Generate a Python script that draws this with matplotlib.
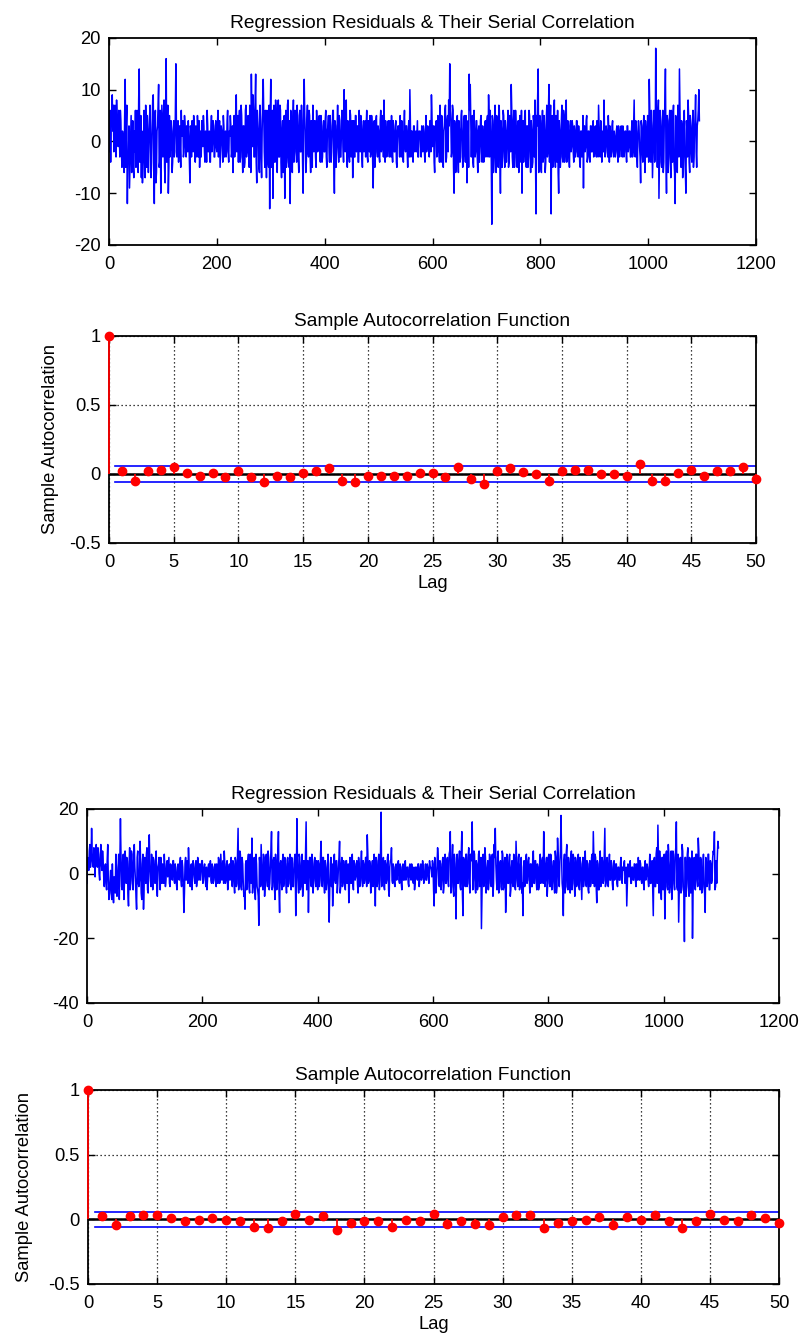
import matplotlib
matplotlib.use("Agg")
import matplotlib.pyplot as plt
import numpy as np

plt.rcParams["font.family"] = ["Liberation Sans", "DejaVu Sans"]
plt.rcParams["font.size"] = 13.2
plt.rcParams["axes.unicode_minus"] = False

# regression residuals, even observations (t = 0, 2, 4, ...)
resid_a_even = [
    -2, 6, 3, 9, 7, -1, 5, 8, 2, 6, -3, 4, -5, 1, -6, 12, 3, -12, -4, -9, 2, -6, 4, -7, -2,
    -5, 6, -6, 14, -3, -7, -8, 1, -4, 7, -5, 2, -2, 7, -7, 3, 9, -12, 6, -6, 3, 11, -4, -10, 7,
    -3, 8, -8, 16, 3, -10, 5, -1, 2, -4, 4, -2, 15, -3, 4, 1, -1, 6, 2, -3, 5, -1, 3, -2, 1,
    -8, 2, 4, -2, 3, -4, 1, 5, -3, -5, 2, 4, -1, 3, -4, 1, 6, -2, 2, -4, 5, 0, 3, -3, 4,
    -2, 6, 1, -5, 3, -1, 5, -3, 2, -2, 6, -4, 1, 3, -2, -6, 5, -1, 9, 2, -4, 6, -3, 5, -6,
    3, -4, 7, -2, 5, -5, 3, 13, -1, 6, -3, 13, -8, 4, -5, 7, -3, 2, 12, -2, 6, -7, 3, -5, -13,
    12, -2, -11, 7, -4, 5, -6, 8, -3, 6, -7, 4, -2, -11, 6, -3, 8, -5, -12, 4, -6, 8, -2, 5, -4,
    3, -6, 6, -2, 4, -10, 12, 2, -4, 7, -3, 5, -6, 2, 7, -2, 4, -5, 3, -1, 5, -4, 2, -3, 4,
    -2, 6, -5, 3, -1, 5, -4, 2, 6, -10, 3, -2, 7, -4, 4, -3, 6, -1, 10, -2, 8, -5, 3, -4, 5,
    -2, -7, 4, -3, 5, 1, -4, 6, -2, 3, -5, 4, 1, -3, 6, -4, 2, 5, -2, 3, -9, 4, -1, 5, -3,
    2, -4, 6, -1, 3, 8, -4, 2, -2, 4, -3, 1, 5, -4, 2, -2, 4, -5, 3, 0, 5, -3, 2, -4, 6,
    -2, 3, -5, 4, 10, -3, 2, -4, 3, 1, -2, 4, -3, 1, -1, 3, -2, 2, -4, 5, -1, 2, -3, 4, 9,
    -1, 3, -6, 2, -3, 5, -2, 7, -4, 4, -5, 3, 7, -3, 5, 8, 15, 4, -2, 6, -10, 3, -4, 5, -6,
    2, -3, 6, -5, 3, -2, 5, -8, 4, 13, 11, -3, 5, -5, 2, -2, 4, -6, 3, -1, 5, -4, 1, -3, 4,
    -2, 5, 9, -3, 2, -16, 4, -4, 7, -6, 3, -5, 6, -10, 2, -3, 5, -5, 2, -1, 6, -4, 3, 11, -3,
    4, -5, 6, -2, 3, -6, 5, -4, -10, 4, -2, 6, -5, 3, -3, 5, -6, 2, -4, 4, 8, -14, 3, 14, -5,
    4, -6, 6, -3, 2, -4, 7, -2, 11, 3, -14, 5, -4, 8, -5, 3, 6, -10, 2, -3, 7, -4, 5, -2, 8,
    -3, 2, -5, 4, -1, 3, -4, 2, -2, 4, -3, 1, -5, 2, -2, -9, 3, -1, 5, -3, 2, -4, 3, -2, 4,
    -1, 3, -3, 2, 7, -2, 4, -4, 2, 8, -3, 3, -1, 5, -4, 2, -2, 4, -3, 1, -2, 3, -4, 2, -1,
    3, -3, 1, -2, 2, -4, 3, -1, 2, -3, 4, -2, 8, -3, 2, -5, 4, -1, -8, 3, -4, 5, -6, 2, -3,
    4, 12, -3, 6, -7, 3, -4, 18, 2, 5, -11, 6, -4, 3, -6, 5, 14, -10, 4, -3, 6, -7, 2, 5, -4,
    -12, 3, -6, 5, 14, -2, 4, -7, 3, -3, -10, 2, 8, -4, 5, -2, 3, -5, 2, 9, -5, 4, 10,
]
# odd observations (t = 1, 3, 5, ...)
resid_a_odd = [
    1, -4, 5, 2, -2, 7, -3, 4, -1, 3, 6, -2, 2, -3, 5, -5, 7, -2, 3, -4, 5, -2, -5, 2, 6,
    -1, 3, 8, -4, 5, 2, -5, 6, -7, 2, 5, -6, 4, 1, -4, 8, -3, 4, -8, 2, 7, -5, 6, -3, 2,
    5, -5, 6, -4, 7, -5, -3, 4, -6, 2, -3, 5, 3, 2, -4, 3, -5, 1, 4, -2, 3, -3, 1, 4, -4,
    3, -3, -1, 5, -2, 3, -3, 2, 4, -1, -3, 1, 5, -2, 2, -4, 3, 1, -4, 2, -2, 4, -3, 2, -1,
    3, -3, 4, -1, 2, -4, 3, 1, -3, 4, -2, 2, 5, -3, 3, 2, -3, 6, -2, 5, 3, -4, 7, -2, 3,
    -5, 6, -3, 4, -2, 7, -6, 5, 9, -3, 8, -4, 6, 2, -6, 4, -7, 8, 5, -5, 3, 6, -4, 7, 5,
    -5, 6, 3, -4, 8, -2, 5, -3, 7, -4, 2, -6, 5, 3, -5, 7, -4, 4, 6, -3, 4, -4, 6, -2, 7,
    -3, 5, -2, 7, -4, 3, 5, -6, 4, -2, 6, -3, 4, -5, 2, 4, -3, 6, -2, 3, -3, 5, -4, 3, -2,
    4, -3, 2, 5, -4, 3, -2, 6, -3, 4, -5, 3, -1, 5, -3, 2, 4, -4, 3, 5, -3, 4, -2, 6, -3,
    4, 2, -3, 5, -2, 3, -4, 2, 5, -3, 2, -2, 4, 3, -3, 4, -2, -3, 5, -4, 3, -5, 4, -2, 3,
    -3, 4, -2, 5, -3, 2, 4, -3, 3, -1, 4, -3, -2, 4, -2, 3, -4, 2, 3, -3, -2, 4, -3, 3, -1,
    3, -2, 2, -3, 4, 2, -2, 3, -2, 2, 1, -3, 2, 2, -3, 1, 3, -2, 2, -2, 3, -2, 4, -2, 5,
    2, -4, 3, 4, -2, 2, -4, 3, 5, -3, 2, 6, -4, 4, -2, 3, 6, -3, 7, -5, 4, -6, 3, -3, 4,
    -4, 5, 2, -3, 5, -4, 3, 2, -5, 6, 4, 3, -4, 6, -3, 4, -3, 2, -4, 4, -2, 3, -4, 3, -3,
    4, -3, 4, 6, -4, 5, -6, 3, -3, 5, -4, 7, -3, 4, -5, 6, -2, 4, -4, 3, -5, 5, -2, 6, -5,
    6, -3, 3, -5, 4, 2, -2, 6, 3, -4, 5, -3, 3, -5, 6, -2, 4, -5, 5, -3, -4, 5, 8, -6, 5,
    -5, 3, -4, 5, -6, 4, -3, 6, -4, 7, 4, -5, 6, -3, 5, -4, -6, 4, -5, 4, -3, 6, -4, 3, -4,
    4, -3, 3, -2, 4, -2, 3, -3, 4, -2, 3, -4, 2, -3, 5, 3, -2, 4, -4, 2, -3, 3, -2, 3, -3,
    2, -2, 4, -3, 2, -3, 3, 1, -2, 3, -2, 2, -3, 2, 3, -3, 3, -2, 2, -3, 2, -2, 3, -3, 2,
    -2, 3, -3, 2, -2, 3, -2, 2, -3, 2, -3, 3, -2, 4, -3, 2, 3, -3, 4, -2, 3, -2, 4, -3, 5,
    -4, 6, -4, 3, -2, 6, -3, 7, -5, 8, -3, 4, -5, 6, -4, 7, -3, 5, -6, 4, -3, 6, -4, 7, -6,
    5, -4, 7, -3, 6, -5, 3, -4, 6, -6, 4, -3, 5, -6, 3, -4, 6, -3, 5, -2, 3, 6, 4,
]

resid_b_even = [
    -3, 4, 7, 2, 14, 3, 8, -1, 9, 2, 6, -2, 9, 1, 4, -4, 3, -5, 9, -8, -2, -6, 3, -9, -3,
    6, -7, 2, -8, 17, -4, 5, -8, 7, -3, 4, -10, 8, -2, 6, -5, 9, -2, -11, 7, -4, 10, -6, 3, -11,
    5, -3, 8, -6, 12, -2, 6, -5, 4, -3, 7, -7, 3, -2, 5, -3, 2, 6, -4, 3, -1, 5, -4, 2, -2,
    4, -3, 1, -5, 3, -2, 5, -4, 2, -12, 3, -2, 4, 8, -3, 2, -5, 4, -1, 3, -4, 5, -2, 3, 1,
    4, -2, 3, -4, -5, 2, -1, 4, -3, 2, -2, 3, -4, 1, 5, -3, 6, -2, 4, 7, -3, 3, -5, 2, -2,
    5, -4, 3, -6, 4, -3, 14, -2, 6, -5, 3, -7, -11, 4, -3, 6, -6, 2, 11, -4, 5, -8, 3, -5, -16,
    3, 9, -3, 6, -7, 4, -2, 7, -5, 2, 13, -4, 5, -8, 3, -3, 13, -12, 4, -5, 6, -2, 3, -6, 5,
    -3, 6, -5, 2, -4, 5, -13, 17, -2, 6, -5, 3, -7, 4, -3, 16, 2, -12, 5, -3, 6, -6, 3, -2, 4,
    -5, 3, -2, 10, -4, 5, -6, 2, -3, 6, -15, 3, -4, -10, 5, -2, 4, -6, 2, 10, -4, 5, -3, 2, -5,
    4, -2, -9, 5, -3, 6, -5, 3, -1, 4, -6, 2, -3, 7, -4, 3, -2, 5, 12, -3, 4, -6, 2, -4, 6,
    -10, 4, -3, 6, -2, 19, -3, 5, -5, 3, -2, 6, -7, 4, 8, -3, 2, -4, 3, -1, 4, -3, 2, -5, 3,
    -2, 4, -1, 2, -4, 3, -2, 1, -3, -5, 2, -1, 3, -4, 2, -2, 4, -3, 1, -2, 3, -1, 4, 2, -1,
    3, -10, 2, -3, 8, -2, 4, -5, 3, -6, 5, -3, 4, -2, 6, 13, -4, 9, -7, 3, -14, 6, -3, 7, -5,
    13, -13, 4, -4, 6, -3, 8, -6, 5, 16, -2, 6, -6, 3, -4, 7, -3, -17, 5, -4, 8, -6, 2, -5, 6,
    -3, 5, -7, 9, 14, -2, 5, -6, 3, -4, 7, -5, 4, -12, 6, -3, 5, -7, 2, -3, 6, -4, 10, -2, 5,
    -5, 3, -6, -13, 4, -3, 6, -2, 5, -6, 3, -4, 7, -3, 4, -5, 2, -4, 6, -2, 5, 13, -4, 3, -7,
    5, -3, 6, -5, 2, -4, 7, -6, 11, -2, 4, 18, -3, -13, 6, -4, 9, -5, 3, -6, 7, -3, 5, -7, 4,
    -3, 6, -5, 3, -8, 5, -2, 7, -4, 3, -6, 4, -3, 6, 13, -4, 5, -9, 3, -5, 7, -3, 4, -2, 14,
    -3, 5, -4, 6, -2, 3, -5, 4, -1, 3, -4, 2, -2, 5, -3, 1, 4, -2, -10, 3, -1, 4, -3, 2, -2,
    3, -4, 1, 5, -2, 3, -3, 2, -5, 4, -1, 2, -4, 6, -3, 4, -13, 5, -4, 8, 15, -6, 3, -8, 5,
    -3, -14, 6, -4, 9, -6, 3, -8, 7, -3, 5, 16, -5, -15, 4, -6, 9, -4, -21, 5, -3, 8, -7, 4, -5,
    -20, 3, -4, 6, -2, 11, -3, 5, -6, 2, -4, -12, 4, -3, 6, -5, 3, -2, 7, 13, -4, -3, 10,
]
resid_b_odd = [
    5, 1, 9, 4, 6, 2, 5, 7, 3, 8, 0, 5, 3, 7, -1, 2, -3, 4, -2, -6, 1, -8, -4, -1, -6,
    2, -3, 6, 3, 5, -5, 6, -2, 4, 5, -6, 3, -5, 7, -3, 4, 2, -7, 5, -3, -2, 4, -8, 6, -4,
    3, 6, -5, 4, 2, -4, 3, 5, -2, 4, -4, 2, 5, -5, 2, 3, -3, 2, -2, 4, 2, -3, 3, -1, 4,
    -2, 3, -3, 2, -1, 3, -2, 4, -3, -6, 5, 2, -3, 3, -4, 3, -1, 2, -3, 4, -2, 2, 3, -2, 4,
    -3, 2, -1, 2, -2, 3, 1, -2, 3, -3, 2, -2, 3, -3, 4, -2, 2, 3, -3, 3, -2, 4, -3, 3, 2,
    -2, 4, -3, 5, -4, 6, -5, 7, -4, 5, -3, -6, 3, -5, 4, -4, 6, -3, -6, 4, -5, 6, -4, -7, 5,
    -4, 3, -5, 5, -3, 6, -4, 5, -3, 7, -5, 4, -4, 6, -5, 7, -6, 3, -2, 4, -4, 5, -3, 4, -4,
    4, -3, 5, -4, 3, 6, -5, 3, -6, 5, -4, 6, -3, 2, 7, -5, 4, -2, 5, -4, 4, -3, 5, -4, 3,
    4, -4, 6, -3, 5, -3, 4, -5, 3, -7, -4, 5, 3, -4, 6, -3, 4, -3, 5, -6, 3, -4, 4, -3, 4,
    -3, 3, -4, 2, 4, -3, 4, -2, 3, -3, 5, -4, 3, -2, 4, -3, 5, -4, 6, -2, 3, -4, 4, -3, 2,
    5, -4, 4, -5, 6, -4, 3, -4, 4, -3, 5, -5, 2, 4, -2, 3, -3, 2, -2, 3, -2, 3, -3, 2, -2,
    3, -2, 2, -3, 2, -1, 3, -2, 2, -3, 2, -2, 3, -2, 3, -1, 2, -2, 3, -2, 2, -3, 2, 1, 4,
    -5, 5, -6, 3, 5, -4, 3, -2, 5, -4, 6, -3, 5, -4, 7, -6, 4, -5, 6, -4, 5, -3, 4, -4, 6,
    -6, 5, -3, 6, -4, 5, -3, 6, 4, -5, 7, -4, 4, -5, 6, -4, 5, -6, 6, -3, 5, -4, 4, -3, 5,
    -4, 6, -3, 5, 3, -5, 7, -3, 4, -5, 6, -4, 5, -6, 4, -3, 6, -5, 4, -4, 5, -5, 4, -4, 6,
    -4, 5, -3, 2, -4, 5, -3, 4, -2, 3, -4, 5, -3, 4, -2, 3, -5, 4, -3, 4, -3, 6, -2, 5, -3,
    6, -4, 5, -3, 4, -6, 5, -4, 6, -4, 7, 5, -5, 4, -6, 6, -4, 5, -4, 5, -5, 6, -3, 5, -4,
    4, -4, 5, -3, 3, -4, 5, -3, 4, -5, 3, -4, 5, -3, 4, 6, -4, 4, -5, 3, -4, 5, -3, 6, -4,
    4, -3, 3, -2, 4, -3, 2, -2, 3, -3, 2, -2, 3, -2, 2, 3, -3, 2, -4, 2, 3, -3, 2, -2, 3,
    -2, 3, -2, 2, 4, -2, 2, -3, 2, -2, 3, -2, 2, -3, 3, -5, 4, -4, 6, -3, 5, 7, -4, 5, -5,
    6, -5, 7, -5, 6, -4, 7, -5, 6, -5, 8, -4, 6, -6, 5, -5, 7, -6, 5, -7, 6, -4, 5, -6, 7,
    -6, 5, -5, 6, -4, 7, -5, 4, -5, 6, -6, 5, -4, 6, -5, 4, -3, 5, 6, -5, 4, 5, 8,
]

# sample autocorrelation, lags 0..50
acf_a = [
    1.0, 0.02, -0.05, 0.02, 0.03, 0.053, 0.008, -0.017, 0.008, -0.024, 0.02,
    -0.024, -0.06, -0.015, -0.024, 0.008, 0.02, 0.04, -0.048, -0.06, -0.015,
    -0.015, -0.015, -0.017, 0.007, 0.007, -0.024, 0.053, -0.036, -0.07, 0.02,
    0.04, 0.017, -0.002, -0.048, 0.02, 0.03, 0.03, -0.002, -0.002, -0.015,
    0.072, -0.048, -0.048, 0.008, 0.03, -0.015, 0.02, 0.02, 0.053, -0.036,
]
acf_b = [
    1.0, 0.026, -0.044, 0.026, 0.033, 0.033, 0.01, -0.015, -0.005, 0.013, -0.003,
    -0.015, -0.056, -0.07, -0.015, 0.038, -0.003, 0.023, -0.08, -0.026, -0.015,
    -0.015, -0.056, -0.003, -0.015, 0.038, -0.036, -0.015, -0.036, -0.046, 0.02,
    0.031, 0.031, -0.07, -0.026, -0.015, -0.003, 0.02, -0.046, 0.02, -0.003,
    0.031, -0.015, -0.07, -0.015, 0.038, -0.003, -0.015, 0.031, 0.01, -0.026,
]
conf_bound = 0.06  # about 2/sqrt(N)

BLUE = (0, 0, 1)
RED = (1, 0, 0)


def interleave(even, odd):
    n = min(len(even), len(odd))
    out = np.empty(2 * n)
    out[0::2] = even[:n]
    out[1::2] = odd[:n]
    return out


def style(ax):
    for s in ax.spines.values():
        s.set_linewidth(1.3)
        s.set_color("k")
    ax.tick_params(direction="in", top=True, right=True, length=5, width=1.0,
                   labelsize=13.2)
    ax.tick_params(axis="x", pad=8)
    ax.tick_params(axis="y", pad=6)


def residual_panel(ax, values, ylim, yticks):
    t = np.arange(len(values))
    ax.plot(t, values, color=BLUE, lw=1.1)
    ax.set_xlim(0, 1200)
    ax.set_ylim(*ylim)
    ax.set_xticks(range(0, 1201, 200))
    ax.set_yticks(yticks)
    ax.set_title("Regression Residuals & Their Serial Correlation", fontsize=13.8, pad=7)
    style(ax)


def acf_panel(ax, acf, ypad):
    lags = np.arange(len(acf))
    markers, stems, base = ax.stem(lags, acf, linefmt="-", markerfmt="o", basefmt="-")
    stems.set_color(RED)
    stems.set_linewidth(1.3)
    stems.set_zorder(3)
    stems.set_clip_on(False)
    markers.set_color(RED)
    markers.set_markersize(6)
    markers.set_zorder(4)
    markers.set_clip_on(False)
    base.set_color("k")
    base.set_linewidth(1.8)
    ax.plot([0.5, len(acf) - 1], [conf_bound, conf_bound], color=BLUE, lw=1.2)
    ax.plot([0.5, len(acf) - 1], [-conf_bound, -conf_bound], color=BLUE, lw=1.2)
    ax.set_xlim(0, 50)
    ax.set_ylim(-0.5, 1)
    ax.set_xticks(range(0, 51, 5))
    ax.set_yticks([-0.5, 0, 0.5, 1])
    ax.set_yticklabels(["-0.5", "0", "0.5", "1"])
    ax.grid(True, color="k", linestyle=(0, (1, 2.2)), lw=0.9)
    ax.set_axisbelow(True)
    ax.set_title("Sample Autocorrelation Function", fontsize=13.8, pad=7)
    ax.set_xlabel("Lag", labelpad=3)
    ax.set_ylabel("Sample Autocorrelation", labelpad=ypad)
    style(ax)


fig = plt.figure(figsize=(8.04, 13.4), dpi=100)

ax1 = fig.add_axes([0.1356, 0.8172, 0.8047, 0.1545])
ax2 = fig.add_axes([0.1356, 0.5948, 0.8047, 0.1545])
ax3 = fig.add_axes([0.1082, 0.2515, 0.8607, 0.1448])
ax4 = fig.add_axes([0.1095, 0.0418, 0.8595, 0.1448])

residual_panel(ax1, interleave(resid_a_even, resid_a_odd), (-20, 20), [-20, -10, 0, 10, 20])
acf_panel(ax2, acf_a, 7)
residual_panel(ax3, interleave(resid_b_even, resid_b_odd), (-40, 20), [-40, -20, 0, 20])
acf_panel(ax4, acf_b, 11)

fig.savefig("out.png", dpi=100)
